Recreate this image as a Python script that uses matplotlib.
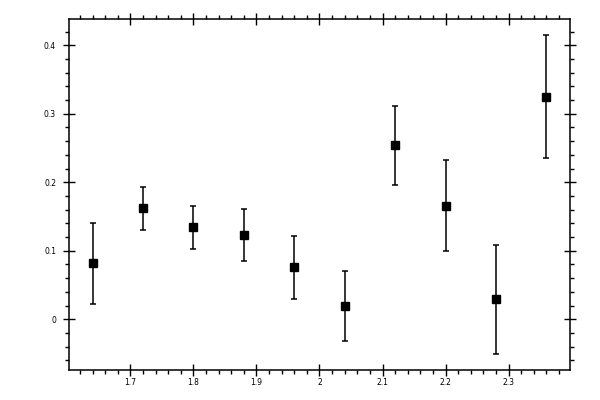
import matplotlib
matplotlib.use("Agg")
import matplotlib.pyplot as plt
from matplotlib.ticker import MultipleLocator, FixedLocator

x_vals = [1.64, 1.72, 1.80, 1.88, 1.96, 2.04, 2.12, 2.20, 2.28, 2.36]
y_vals = [0.082, 0.162, 0.134, 0.123, 0.076, 0.020, 0.254, 0.166, 0.029, 0.325]
y_err = [0.059, 0.031, 0.032, 0.038, 0.046, 0.051, 0.058, 0.066, 0.079, 0.090]

x_ticks = [1.7, 1.8, 1.9, 2.0, 2.1, 2.2, 2.3]
x_tick_labels = ["1.7", "1.8", "1.9", "2", "2.1", "2.2", "2.3"]
y_ticks = [0.0, 0.1, 0.2, 0.3, 0.4]
y_tick_labels = ["0", "0.1", "0.2", "0.3", "0.4"]

fig = plt.figure(figsize=(6, 4), dpi=100)
ax = fig.add_axes([0.1155, 0.075, 0.835, 0.877])

ax.errorbar(x_vals, y_vals, yerr=y_err, fmt="s", color="black",
            markersize=5.2, elinewidth=1.1, capsize=2.2, capthick=1.1,
            ecolor="black")

ax.set_xlim(1.603, 2.398)
ax.set_ylim(-0.074, 0.438)

ax.xaxis.set_major_locator(FixedLocator(x_ticks))
ax.set_xticklabels(x_tick_labels)
ax.yaxis.set_major_locator(FixedLocator(y_ticks))
ax.set_yticklabels(y_tick_labels)
ax.xaxis.set_minor_locator(MultipleLocator(0.02))
ax.yaxis.set_minor_locator(MultipleLocator(0.02))

ax.tick_params(which="major", direction="inout", length=8, width=1,
               top=True, right=True, labelsize=5.5)
ax.tick_params(which="minor", direction="out", length=3, width=1,
               top=True, right=True)
ax.tick_params(axis="x", which="major", pad=1.5)
ax.tick_params(axis="y", which="major", pad=5.5)

for s in ax.spines.values():
    s.set_linewidth(1.1)

fig.savefig("out.png", dpi=100)
